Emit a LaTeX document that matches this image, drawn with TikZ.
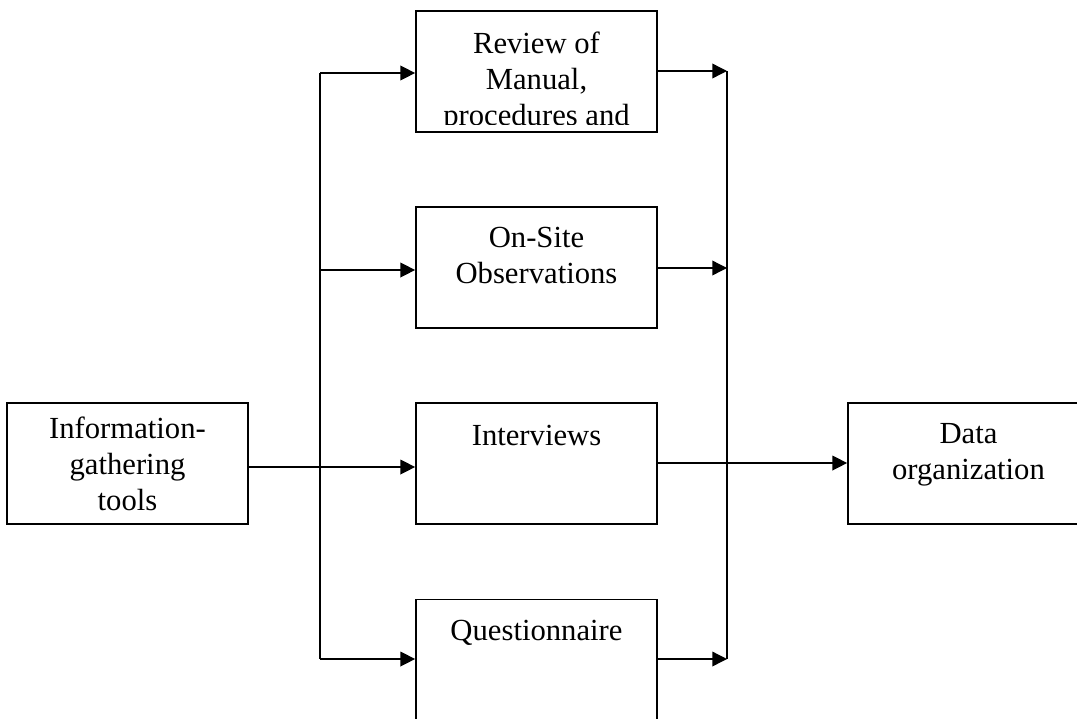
\documentclass[tikz,border=0pt]{standalone}
\usepackage{fontspec}
\setmainfont{Liberation Serif}
\usetikzlibrary{arrows.meta}
\begin{document}
\begin{tikzpicture}[x=0.75pt,y=-0.75pt,
  box/.style={draw, line width=1.3pt, minimum width=180.75pt, minimum height=90.75pt, inner sep=0pt},
  txt/.style={anchor=north, align=center, inner sep=0pt, font=\fontsize{23}{27}\selectfont},
  conn/.style={line width=1pt},
  arr/.style={line width=1pt, -{Triangle[length=11pt,width=11pt]}}]
\useasboundingbox (0,0) rectangle (1077,718);
\clip (0,0) rectangle (1077,718);
% boxes
\node[box] (rev) at (536.5,71.5) {};
\node[box] (ons) at (536.5,267.5) {};
\node[box] (int) at (536.5,463.5) {};
\node[box] (que) at (536.5,660) {};
\node[box] (info) at (127.5,463.5) {};
\node[box] (data) at (968.5,463.5) {};
% texts
\begin{scope}
\clip (417,12) rectangle (656,124);
\node[txt] (revt) at (536.5,27.8) {\strut Review of\\Manual,\\procedures and};
\end{scope}
\node[txt] (onst) at (536.5,221.8) {\strut On-Site\\Observations};
\node[txt] (intt) at (536.5,419.8) {\strut Interviews};
\node[txt] (quet) at (536.5,614.8) {\strut Questionnaire};
\node[txt] (infot) at (127.5,412.8) {\strut Information-\\gathering\\tools};
\node[txt] (datat) at (968.5,417.8) {\strut Data\\organization};
% left bus
\coordinate (L1) at (320,73);
\coordinate (L2) at (320,270);
\coordinate (L3) at (320,467);
\coordinate (L4) at (320,659);
\draw[conn] (L1) -- (L4);
\draw[arr] (L1) -- (L1 -| rev.west);
\draw[arr] (L2) -- (L2 -| ons.west);
\draw[arr] (info.east |- L3) -- (L3 -| int.west);
\draw[arr] (L4) -- (L4 -| que.west);
% right bus
\coordinate (R1) at (727,71);
\coordinate (R2) at (727,268);
\coordinate (R3) at (727,463);
\coordinate (R4) at (727,659);
\draw[conn] (R1) -- (R4);
\draw[arr] (rev.east |- R1) -- (R1);
\draw[arr] (ons.east |- R2) -- (R2);
\draw[arr] (int.east |- R3) -- (R3 -| data.west);
\draw[arr] (que.east |- R4) -- (R4);
\end{tikzpicture}
\end{document}
